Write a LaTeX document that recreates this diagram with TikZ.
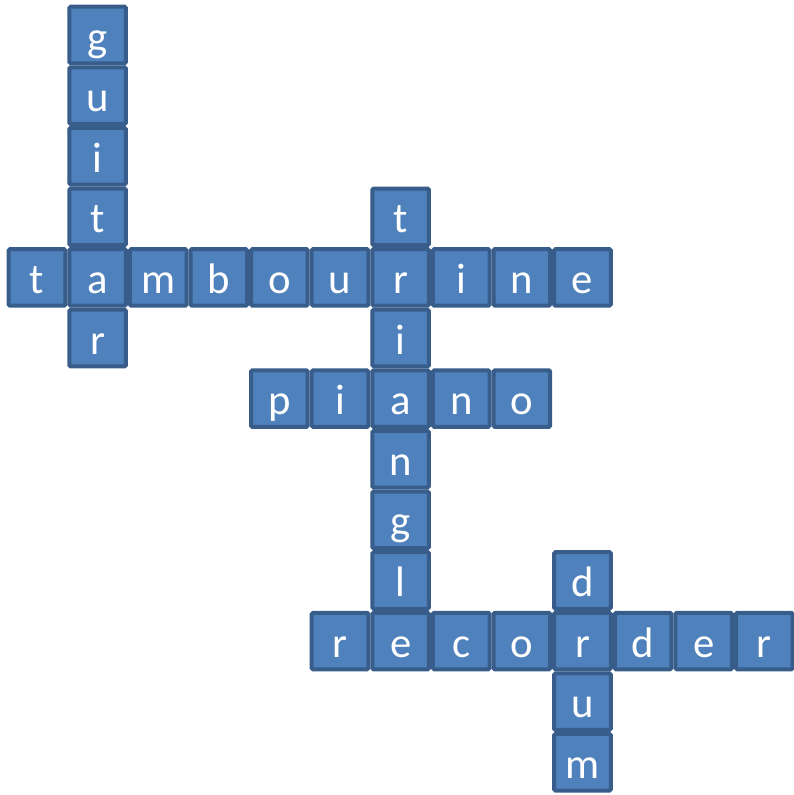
\documentclass[tikz,border=0pt]{standalone}
\usepackage{fontspec}
\setmainfont{Carlito}
\definecolor{cellfill}{HTML}{4F81BD}
\definecolor{celldraw}{HTML}{385D8A}
\begin{document}
\begin{tikzpicture}[
                x=45.45pt, y=-45.45pt,
                cell/.style={
                    draw=celldraw,
                    fill=cellfill,
                    rectangle,
                    rounded corners=1pt,
                    line width=3pt,
                    minimum size=42.45pt,
                    inner sep=0pt,
                    text=white,
                    text height=24pt,
                    text depth=0pt,
                    font=\fontsize{32}{32}\selectfont
                }
            ]
                \useasboundingbox (-0.6106,-0.5776) rectangle (12.49,12.54);

                % guitar, down
                \foreach \ch [count=\r from 0] in {g,u,i,t,a,r}
                    \node[cell] (guitar\r) at (1,\r) {\ch};
                % tambourine, across (a shared)
                \foreach \ch/\c in {t/0,m/2,b/3,o/4,u/5,r/6,i/7,n/8,e/9}
                    \node[cell] (tambourine\c) at (\c,4) {\ch};
                % triangle, down (r shared)
                \foreach \ch/\r in {t/3,i/5,a/6,n/7,g/8,l/9,e/10}
                    \node[cell] (triangle\r) at (6,\r) {\ch};
                % piano, across (a shared)
                \foreach \ch/\c in {p/4,i/5,n/7,o/8}
                    \node[cell] (piano\c) at (\c,6) {\ch};
                % recorder, across (e shared)
                \foreach \ch/\c in {r/5,c/7,o/8,r/9,d/10,e/11,r/12}
                    \node[cell] (recorder\c) at (\c,10) {\ch};
                % drum, down (r shared)
                \foreach \ch/\r in {d/9,u/11,m/12}
                    \node[cell] (drum\r) at (9,\r) {\ch};
        \end{tikzpicture}
\end{document}
